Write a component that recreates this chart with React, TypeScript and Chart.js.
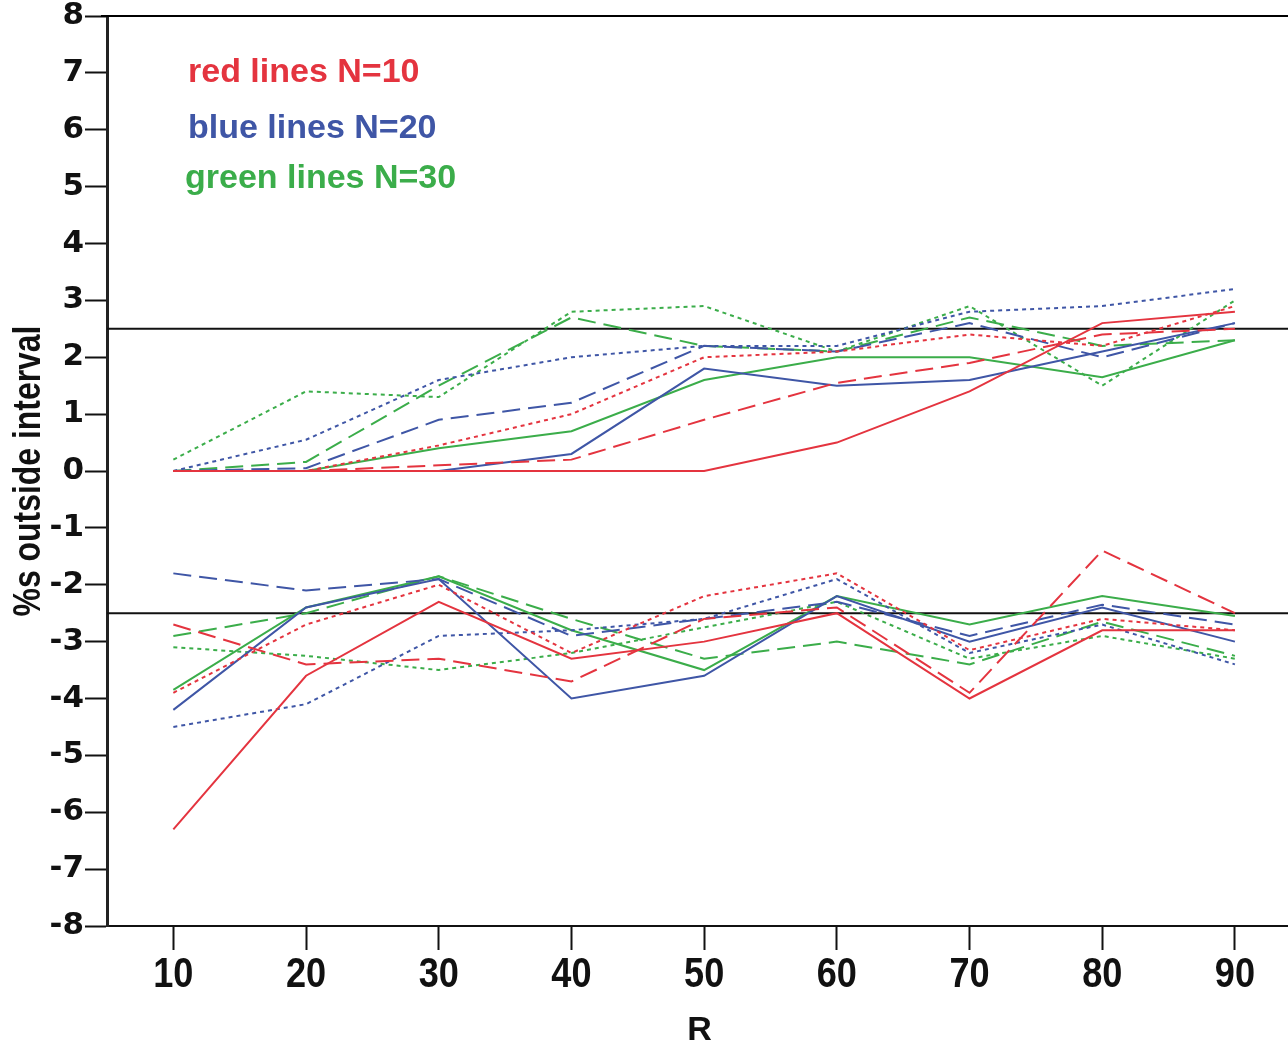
import React, { useEffect, useRef } from "react";
import { Chart, registerables } from "chart.js";

Chart.register(...registerables);

const R = [10, 20, 30, 40, 50, 60, 70, 80, 90];
const yTicks = [-8, -7, -6, -5, -4, -3, -2, -1, 0, 1, 2, 3, 4, 5, 6, 7, 8];
const refLines = [2.5, -2.5];
const xTitle = "R";
const yTitle = "%s outside interval";

// upper limits
const redSolidU = [0, 0, 0, 0, 0, 0.5, 1.4, 2.6, 2.8];
const redDashU = [0, 0, 0.1, 0.2, 0.9, 1.55, 1.9, 2.4, 2.5];
const redDotU = [0, 0, 0.45, 1.0, 2.0, 2.1, 2.4, 2.2, 2.9];
const blueSolidU = [0, 0, 0, 0.3, 1.8, 1.5, 1.6, 2.1, 2.6];
const blueDashU = [0, 0.05, 0.9, 1.2, 2.2, 2.1, 2.6, 2.0, 2.6];
const blueDotU = [0, 0.55, 1.6, 2.0, 2.2, 2.2, 2.8, 2.9, 3.2];
const greenSolidU = [0, 0, 0.4, 0.7, 1.6, 2.0, 2.0, 1.65, 2.3];
const greenDashU = [0, 0.16, 1.5, 2.7, 2.2, 2.1, 2.7, 2.2, 2.3];
const greenDotU = [0.2, 1.4, 1.3, 2.8, 2.9, 2.1, 2.9, 1.5, 3.0];

// lower limits
const redSolidL = [-6.3, -3.6, -2.3, -3.3, -3.0, -2.5, -4.0, -2.8, -2.8];
const redDashL = [-2.7, -3.4, -3.3, -3.7, -2.6, -2.4, -3.9, -1.4, -2.5];
const redDotL = [-3.9, -2.7, -2.0, -3.2, -2.2, -1.8, -3.15, -2.6, -2.8];
const blueSolidL = [-4.2, -2.4, -1.9, -4.0, -3.6, -2.2, -3.0, -2.4, -3.0];
const blueDashL = [-1.8, -2.1, -1.9, -2.9, -2.6, -2.3, -2.9, -2.35, -2.7];
const blueDotL = [-4.5, -4.1, -2.9, -2.8, -2.6, -1.9, -3.2, -2.7, -3.4];
const greenSolidL = [-3.85, -2.4, -1.85, -2.8, -3.5, -2.2, -2.7, -2.2, -2.55];
const greenDashL = [-2.9, -2.5, -1.85, -2.6, -3.3, -3.0, -3.4, -2.65, -3.25];
const greenDotL = [-3.1, -3.25, -3.5, -3.2, -2.75, -2.3, -3.3, -2.9, -3.3];

const RED = "#e4343f";
const BLUE = "#3f56a6";
const GREEN = "#3bad4a";

const legendLines = [
  { text: "red lines N=10", color: RED },
  { text: "blue lines N=20", color: BLUE },
  { text: "green lines N=30", color: GREEN },
];

const DASH = [18, 8];
const DOT = [4, 4];

function series(values: number[], color: string, dash: number[]) {
  return {
    data: values.map((v, i) => ({ x: R[i], y: v })),
    borderColor: color,
    backgroundColor: color,
    borderWidth: 2,
    borderDash: dash,
    pointRadius: 0,
    tension: 0,
    fill: false,
  };
}

const overlayPlugin = {
  id: "overlay",
  afterDraw(chart: any) {
    const { ctx, chartArea } = chart;
    const xs = chart.scales.x;
    ctx.save();
    // top frame line
    ctx.strokeStyle = "#000";
    ctx.lineWidth = 2;
    ctx.beginPath();
    ctx.moveTo(chartArea.left - 6, chartArea.top);
    ctx.lineTo(chartArea.right, chartArea.top);
    ctx.stroke();

    // legend text
    ctx.font = 'bold 34px "Liberation Sans", Arial, sans-serif';
    ctx.textBaseline = "alphabetic";
    ctx.textAlign = "left";
    const ly = [82, 138, 188];
    const lx = [188, 188, 185];
    legendLines.forEach((l, i) => {
      ctx.fillStyle = l.color;
      ctx.fillText(l.text, lx[i], ly[i]);
    });

    // x tick labels (condensed)
    ctx.fillStyle = "#111";
    ctx.font = 'bold 42px "Liberation Sans", Arial, sans-serif';
    ctx.textAlign = "center";
    R.forEach((v) => {
      const px = xs.getPixelForValue(v);
      ctx.save();
      ctx.translate(px, 987);
      ctx.scale(0.86, 1);
      ctx.fillText(String(v), 0, 0);
      ctx.restore();
    });

    // x title
    ctx.font = 'bold 34px "Liberation Sans", Arial, sans-serif';
    ctx.fillText(xTitle, (chartArea.left + chartArea.right) / 2 + 2, 1040);

    // y title (condensed, rotated)
    ctx.save();
    ctx.translate(28, (chartArea.top + chartArea.bottom) / 2);
    ctx.rotate(-Math.PI / 2);
    ctx.scale(0.84, 1);
    ctx.font = 'bold 38px "Liberation Sans", Arial, sans-serif';
    ctx.textBaseline = "middle";
    ctx.textAlign = "center";
    ctx.fillText(yTitle, 0, 2);
    ctx.restore();

    ctx.restore();
  },
};

export default function App() {
  const ref = useRef<HTMLCanvasElement>(null);
  useEffect(() => {
    document.body.style.margin = "0";
    const datasets: any[] = [
      series(redSolidU, RED, []),
      series(redDashU, RED, DASH),
      series(redDotU, RED, DOT),
      series(blueSolidU, BLUE, []),
      series(blueDashU, BLUE, DASH),
      series(blueDotU, BLUE, DOT),
      series(greenSolidU, GREEN, []),
      series(greenDashU, GREEN, DASH),
      series(greenDotU, GREEN, DOT),
      series(redSolidL, RED, []),
      series(redDashL, RED, DASH),
      series(redDotL, RED, DOT),
      series(blueSolidL, BLUE, []),
      series(blueDashL, BLUE, DASH),
      series(blueDotL, BLUE, DOT),
      series(greenSolidL, GREEN, []),
      series(greenDashL, GREEN, DASH),
      series(greenDotL, GREEN, DOT),
      ...refLines.map((v) => ({
        data: [
          { x: 5, y: v },
          { x: 94, y: v },
        ],
        borderColor: "#111",
        borderWidth: 2,
        pointRadius: 0,
        fill: false,
      })),
    ];
    const chart = new Chart(ref.current!, {
      type: "line",
      data: { datasets },
      plugins: [overlayPlugin],
      options: {
        animation: false,
        responsive: true,
        maintainAspectRatio: false,
        layout: { padding: { top: 16, right: 0, left: 0, bottom: 0 } },
        plugins: { legend: { display: false }, tooltip: { enabled: false } },
        scales: {
          x: {
            type: "linear",
            min: 5,
            max: 94,
            afterBuildTicks: (s: any) => {
              s.ticks = R.map((v) => ({ value: v }));
            },
            afterFit: (s: any) => {
              s.height = 117;
              s.paddingLeft = 0;
              s.paddingRight = 0;
            },
            grid: {
              drawOnChartArea: false,
              drawTicks: true,
              tickLength: 24,
              tickWidth: 2,
              tickColor: "#111",
            },
            border: { display: true, color: "#111", width: 2 },
            ticks: { display: false },
            title: { display: false },
          },
          y: {
            type: "linear",
            min: -8,
            max: 8,
            afterBuildTicks: (s: any) => {
              s.ticks = yTicks.map((v) => ({ value: v }));
            },
            afterFit: (s: any) => {
              s.width = 107;
              s.paddingTop = 0;
              s.paddingBottom = 0;
            },
            grid: {
              drawOnChartArea: false,
              drawTicks: true,
              tickLength: 22,
              tickWidth: 2,
              tickColor: "#111",
            },
            border: { display: true, color: "#222", width: 3 },
            ticks: {
              color: "#111",
              padding: 1,
              font: { family: "'DejaVu Sans', sans-serif", weight: "bold", size: 31 },
            },
            title: { display: false },
          },
        },
      } as any,
    });
    return () => chart.destroy();
  }, []);
  return (
    <div style={{ position: "absolute", left: 0, top: 0, width: 1288, height: 1043 }}>
      <canvas ref={ref} />
    </div>
  );
}
